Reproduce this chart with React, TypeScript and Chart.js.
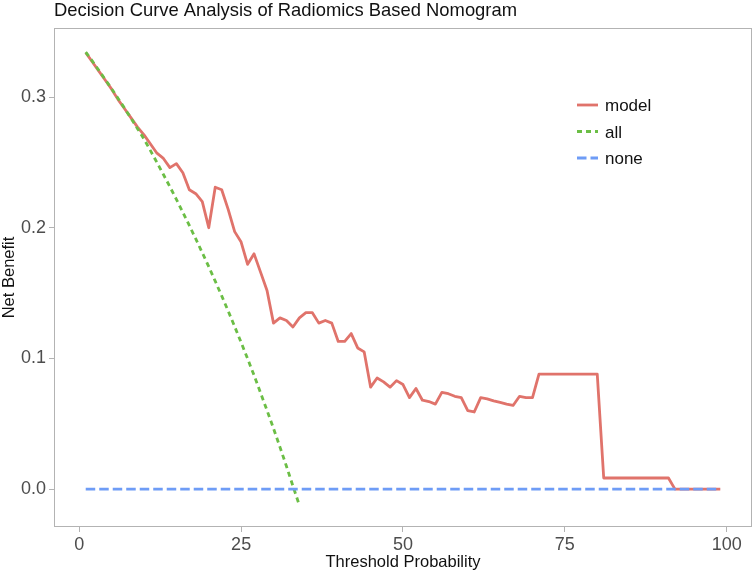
import { useEffect, useRef } from 'react';
import { Chart, registerables } from 'chart.js';

Chart.register(...registerables);

const FONT = '"Liberation Sans", Arial, Helvetica, sans-serif';
const RED = '#E0736B';
const GREEN = '#6BBE45';
const BLUE = '#6E9CF6';

const chartTitle = 'Decision Curve Analysis of Radiomics Based Nomogram';
const xTitle = 'Threshold Probability';
const yTitle = 'Net Benefit';
const seriesNames = ['model', 'all', 'none'];

const xTickValues = [0, 25, 50, 75, 100];
const yTickValues = [0, 0.1, 0.2, 0.3];
const yTickLabels = ['0.0', '0.1', '0.2', '0.3'];

const thresholds = [
  1, 2, 3, 4, 5, 6, 7, 8, 9, 10, 11, 12, 13, 14, 15, 16, 17, 18, 19, 20,
  21, 22, 23, 24, 25, 26, 27, 28, 29, 30, 31, 32, 33, 34, 35, 36, 37, 38, 39, 40,
  41, 42, 43, 44, 45, 46, 47, 48, 49, 50, 51, 52, 53, 54, 55, 56, 57, 58, 59, 60,
  61, 62, 63, 64, 65, 66, 67, 68, 69, 70, 71, 72, 73, 74, 75, 76, 77, 78, 79, 80,
  81, 82, 83, 84, 85, 86, 87, 88, 89, 90, 91, 92, 93, 94, 95, 96, 97, 98, 99,
];

const modelNB = [
  0.334, 0.327, 0.320, 0.313, 0.306, 0.298, 0.291, 0.284, 0.277, 0.271,
  0.264, 0.257, 0.253, 0.246, 0.249, 0.242, 0.229, 0.226, 0.220, 0.200,
  0.231, 0.229, 0.214, 0.197, 0.189, 0.172, 0.180, 0.166, 0.152, 0.127,
  0.131, 0.129, 0.124, 0.131, 0.135, 0.135, 0.127, 0.129, 0.127, 0.113,
  0.113, 0.119, 0.108, 0.105, 0.078, 0.085, 0.082, 0.078, 0.083, 0.080,
  0.070, 0.077, 0.068, 0.067, 0.065, 0.074, 0.073, 0.071, 0.070, 0.060,
  0.059, 0.070, 0.069, 0.0675, 0.0663, 0.065, 0.064, 0.071, 0.070, 0.070,
  0.088, 0.088, 0.088, 0.088, 0.088, 0.088, 0.088, 0.088, 0.088, 0.088,
  0.0085, 0.0085, 0.0085, 0.0085, 0.0085, 0.0085, 0.0085, 0.0085, 0.0085, 0.0085,
  0.0085, 0, 0, 0, 0, 0, 0, 0, 0,
];

const allX = [
  1, 2, 3, 4, 5, 6, 7, 8, 9, 10, 11, 12, 13, 14, 15, 16, 17,
  18, 19, 20, 21, 22, 23, 24, 25, 26, 27, 28, 29, 30, 31, 32, 33, 34,
];
const allNB = [
  0.3343, 0.3276, 0.3206, 0.3135, 0.3063, 0.2989, 0.2914, 0.2837, 0.2758, 0.2678,
  0.2590, 0.2499, 0.2407, 0.2313, 0.2217, 0.2118, 0.2017, 0.1914, 0.1809, 0.1702,
  0.1591, 0.1478, 0.1363, 0.1244, 0.1122, 0.0998, 0.0870, 0.0737, 0.0602, 0.0464,
  0.0321, 0.0175, 0.0024, -0.0125,
];

const noneX = [1, 99];
const noneNB = [0, 0];

const seriesColors = [RED, GREEN, BLUE];
const seriesDashes: number[][] = [[], [5, 4], [9.5, 4]];
const LINE_W = 2.8;

const overlay = {
  id: 'overlay',
  afterDraw(chart: any) {
    const { ctx, chartArea: a } = chart;
    ctx.save();
    // panel border
    ctx.strokeStyle = '#b3b3b3';
    ctx.lineWidth = 1;
    ctx.setLineDash([]);
    ctx.strokeRect(a.left + 0.5, a.top + 0.5, a.right - a.left - 1, a.bottom - a.top - 1);

    // title
    ctx.fillStyle = '#111111';
    ctx.font = `18.4px ${FONT}`;
    ctx.textAlign = 'left';
    ctx.textBaseline = 'alphabetic';
    ctx.fillText(chartTitle, a.left, 16);

    // x title
    ctx.font = `16.5px ${FONT}`;
    ctx.textAlign = 'center';
    ctx.fillText(xTitle, (a.left + a.right) / 2, 567);

    // y title
    ctx.save();
    ctx.translate(14, (a.top + a.bottom) / 2);
    ctx.rotate(-Math.PI / 2);
    ctx.fillText(yTitle, 0, 0);
    ctx.restore();

    // legend
    const rows = [105, 131.5, 158];
    ctx.font = `17px ${FONT}`;
    ctx.textAlign = 'left';
    seriesNames.forEach((name, i) => {
      const y = rows[i];
      ctx.beginPath();
      ctx.strokeStyle = seriesColors[i];
      ctx.lineWidth = LINE_W;
      ctx.lineCap = 'butt';
      ctx.setLineDash(seriesDashes[i]);
      ctx.moveTo(577, y);
      ctx.lineTo(598, y);
      ctx.stroke();
      ctx.setLineDash([]);
      ctx.fillStyle = '#111111';
      ctx.fillText(name, 605, y + 6.3);
    });
    ctx.restore();
  },
};

export default function App() {
  const ref = useRef<HTMLCanvasElement>(null);
  useEffect(() => {
    document.body.style.margin = '0';
    const tickFont = { family: FONT, size: 18 };
    const gridCfg = {
      drawOnChartArea: false,
      drawTicks: true,
      tickLength: 5,
      color: '#b3b3b3',
      lineWidth: 1,
    };
    const chart = new Chart(ref.current as HTMLCanvasElement, {
      type: 'line',
      data: {
        datasets: [
          {
            label: seriesNames[0],
            data: thresholds.map((x, i) => ({ x, y: modelNB[i] })),
            borderColor: RED,
            borderWidth: LINE_W,
            pointRadius: 0,
            tension: 0,
            borderJoinStyle: 'round',
            order: 3,
          },
          {
            label: seriesNames[1],
            data: allX.map((x, i) => ({ x, y: allNB[i] })),
            borderColor: GREEN,
            borderWidth: LINE_W,
            borderDash: seriesDashes[1],
            pointRadius: 0,
            tension: 0,
            order: 2,
          },
          {
            label: seriesNames[2],
            data: noneX.map((x, i) => ({ x, y: noneNB[i] })),
            borderColor: BLUE,
            borderWidth: LINE_W,
            borderDash: seriesDashes[2],
            pointRadius: 0,
            tension: 0,
            order: 1,
          },
        ],
      },
      options: {
        animation: false,
        responsive: false,
        devicePixelRatio: 1,
        layout: { padding: { left: 0, right: 2, top: 28, bottom: 0 } },
        plugins: {
          legend: { display: false },
          title: { display: false },
          tooltip: { enabled: false },
        },
        scales: {
          x: {
            type: 'linear',
            min: -3.9,
            max: 103.9,
            afterBuildTicks: (s: any) => {
              s.ticks = xTickValues.map((v) => ({ value: v }));
            },
            afterFit: (s: any) => {
              s.height = 45;
            },
            grid: gridCfg,
            border: { display: false },
            ticks: {
              font: tickFont,
              color: '#4d4d4d',
              padding: 2,
              maxRotation: 0,
              autoSkip: false,
              callback: (v: any) => String(v),
            },
          },
          y: {
            type: 'linear',
            min: -0.029,
            max: 0.3528,
            afterBuildTicks: (s: any) => {
              s.ticks = yTickValues.map((v) => ({ value: v }));
            },
            afterFit: (s: any) => {
              s.width = 54;
            },
            grid: gridCfg,
            border: { display: false },
            ticks: {
              font: tickFont,
              color: '#4d4d4d',
              padding: 3,
              autoSkip: false,
              callback: (_v: any, i: number) => yTickLabels[i],
            },
          },
        },
      },
      plugins: [overlay],
    } as any);
    return () => chart.destroy();
  }, []);
  return (
    <div style={{ width: 754, height: 572 }}>
      <canvas ref={ref} width={754} height={572} style={{ display: 'block' }} />
    </div>
  );
}
